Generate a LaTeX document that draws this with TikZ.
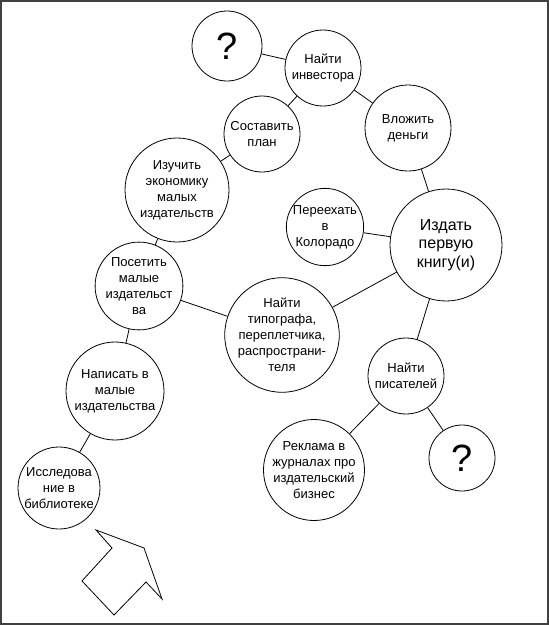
\documentclass[tikz,border=0pt]{standalone}
\usepackage{fontspec}
\setmainfont{Liberation Sans}
\begin{document}
\begin{tikzpicture}[x=1pt, y=-1pt, every node/.style={font=\fontsize{13}{16}\selectfont, align=center},
  bub/.style={draw, circle, inner sep=0pt, line width=0.8pt},
  link/.style={line width=0.8pt}]
  \useasboundingbox (0,0) rectangle (549,625);
  \draw[line width=1.6pt, black!75] (1,1) rectangle (548,624);
  % bubbles
  \node[bub, minimum size=70pt] (q1) at (227,46) {\fontsize{38}{40}\selectfont ?};
  \node[bub, minimum size=76pt] (inv) at (323,68) {Найти\\инвестора};
  \node[bub, minimum size=76pt] (plan) at (262,134) {Составить\\план};
  \node[bub, minimum size=86pt] (money) at (408,128) {Вложить\\деньги};
  \node[bub, minimum size=104pt] (econ) at (177,190) {Изучить\\экономику\\малых\\издательств};
  \node[bub, minimum size=76pt] (move) at (325,227) {Переехать\\в\\Колорадо};
  \node[bub, minimum size=112pt, font=\fontsize{16}{18.5}\selectfont] (book) at (446,245) {Издать\\первую\\книгу(и)};
  \node[bub, minimum size=84pt] (visit) at (139,286) {Посетить\\малые\\издательст\\ва};
  \node[bub, minimum size=102pt] (print) at (282,335) {Найти\\типографа,\\переплетчика,\\распространи-\\теля};
  \node[bub, minimum size=76pt] (writers) at (406,376) {Найти\\писателей};
  \node[bub, minimum size=98pt] (letter) at (115,391) {Написать в\\малые\\издательства};
  \node[bub, minimum size=82pt] (lib) at (59,488) {Исследова\\ние в\\библиотеке};
  \node[bub, minimum size=94pt] (ads) at (314,470) {Реклама в\\журналах про\\издательский\\бизнес};
  \node[bub, minimum size=66pt] (q2) at (462,458) {\fontsize{38}{40}\selectfont ?};
  % links
  \foreach \a/\b in {q1/inv, inv/plan, inv/money, plan/econ, econ/visit, money/book, move/book,
    visit/print, print/book, visit/letter, letter/lib, book/writers, writers/ads, writers/q2}
    \draw[link] (\a) -- (\b);
  % arrow
  \draw[line width=0.8pt] (96,530) -- (112,548) -- (82,581) -- (114,615) -- (146,582) -- (162,599) -- (144,548) -- cycle;
\end{tikzpicture}
\end{document}
